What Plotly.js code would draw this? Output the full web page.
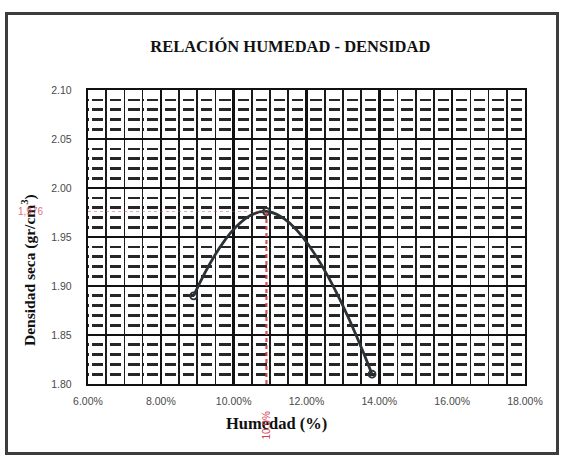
<!DOCTYPE html>
<html>
<head>
<meta charset="utf-8">
<script src="https://cdn.plot.ly/plotly-3.0.1.min.js"></script>
<style>
  html, body { margin: 0; padding: 0; background: #ffffff; }
  #wrap { position: relative; width: 567px; height: 461px; }
  #chart { width: 567px; height: 461px; }
  #frame { position: absolute; left: 5px; top: 12px; width: 548px; height: 437px;
           border: 3px solid #3d3d3d; pointer-events: none; }
</style>
</head>
<body>
<div id="wrap">
  <div id="chart"></div>
  <div id="frame"></div>
</div>
<script>
// Data
const humedad = [0.089, 0.109, 0.138];      // moisture content (fraction)
const densidad = [1.890, 1.976, 1.810];     // dry density (gr/cm3)
const humedadOptima = 0.109;                // optimum moisture content
const densidadMaxima = 1.976;               // max dry density
const xTickVals = [0.06, 0.08, 0.10, 0.12, 0.14, 0.16, 0.18];
const yTickVals = [1.80, 1.85, 1.90, 1.95, 2.00, 2.05, 2.10];

const titleText = 'RELACIÓN HUMEDAD - DENSIDAD';
const xTitleText = 'Humedad (%)';
const yTitleText = 'Densidad seca (gr/cm<sup>3</sup>)';

const serif = '"Liberation Serif", "Times New Roman", serif';
const sans = '"Liberation Sans", Arial, sans-serif';
const red = '#d0404e';

const trace = {
  x: humedad,
  y: densidad,
  type: 'scatter',
  mode: 'lines+markers',
  line: { shape: 'spline', smoothing: 1.3, color: '#2b3236', width: 2.8 },
  marker: { symbol: 'circle-open', size: 7, color: '#2b3236', line: { width: 1.8, color: '#2b3236' } },
  cliponaxis: false,
  showlegend: false,
  hoverinfo: 'x+y'
};

const layout = {
  width: 567,
  height: 461,
  margin: { l: 88, r: 42, t: 90, b: 77 },
  paper_bgcolor: '#ffffff',
  plot_bgcolor: '#ffffff',
  showlegend: false,
  title: {
    text: titleText,
    font: { family: serif, size: 16.5, color: '#111', weight: 'bold' },
    x: 0.512, xanchor: 'center',
    y: 1 - 46 / 461, yanchor: 'middle'
  },
  xaxis: {
    range: [0.06, 0.18],
    tickvals: xTickVals,
    tickformat: '.2%',
    tickfont: { family: sans, size: 10.5, color: '#4a4a4a' },
    ticks: '',
    ticklabelstandoff: 6,
    showline: true, mirror: true, linecolor: '#111', linewidth: 2.2,
    showgrid: true, gridcolor: '#111', gridwidth: 2.6,
    minor: { dtick: 0.005, showgrid: true, gridcolor: '#1a1a1a', gridwidth: 1.6 },
    zeroline: false,
    fixedrange: true
  },
  yaxis: {
    range: [1.80, 2.10],
    tickvals: yTickVals,
    tickformat: '.2f',
    tickfont: { family: sans, size: 10.5, color: '#4a4a4a' },
    ticks: '',
    ticklabelstandoff: 12,
    showline: true, mirror: true, linecolor: '#111', linewidth: 2.2,
    showgrid: true, gridcolor: '#111', gridwidth: 2.4,
    minor: { dtick: 0.01, showgrid: true, gridcolor: '#262626', gridwidth: 2.6, griddash: '1px,3px,11.2px,3px' },
    zeroline: false,
    fixedrange: true
  },
  shapes: [
    { type: 'line', xref: 'x', yref: 'y', x0: humedadOptima, x1: humedadOptima, y0: 1.80, y1: densidadMaxima,
      line: { color: red, width: 2.2, dash: '4px,3px' }, opacity: 0.9 },
    { type: 'line', xref: 'x', yref: 'y', x0: 0.06, x1: humedadOptima, y0: densidadMaxima, y1: densidadMaxima,
      line: { color: red, width: 1.2, dash: 'dot' }, opacity: 0.45 }
  ],
  annotations: [
    { text: xTitleText, xref: 'paper', yref: 'paper', x: (276 - 88) / 437, y: (384 - 423) / 294,
      xanchor: 'center', yanchor: 'middle', showarrow: false,
      font: { family: serif, size: 16.5, color: '#111', weight: 'bold' } },
    { text: yTitleText, xref: 'paper', yref: 'paper', x: (28 - 88) / 437, y: (384 - 270) / 294,
      xanchor: 'center', yanchor: 'middle', showarrow: false, textangle: -90,
      font: { family: serif, size: 15.5, color: '#111', weight: 'bold' } },
    { text: (humedadOptima * 100).toFixed(1) + '%', xref: 'x', yref: 'paper', x: humedadOptima, y: (384 - 425) / 294,
      xanchor: 'center', yanchor: 'middle', showarrow: false, textangle: -90,
      font: { family: sans, size: 10, color: red } },
    { text: densidadMaxima.toFixed(3).replace('.', ','), xref: 'paper', yref: 'y', x: (30 - 88) / 437, y: densidadMaxima,
      xanchor: 'center', yanchor: 'middle', showarrow: false,
      font: { family: sans, size: 10, color: red }, opacity: 0.75 }
  ]
};

Plotly.newPlot('chart', [trace], layout, { staticPlot: true, displayModeBar: false });
</script>
</body>
</html>
